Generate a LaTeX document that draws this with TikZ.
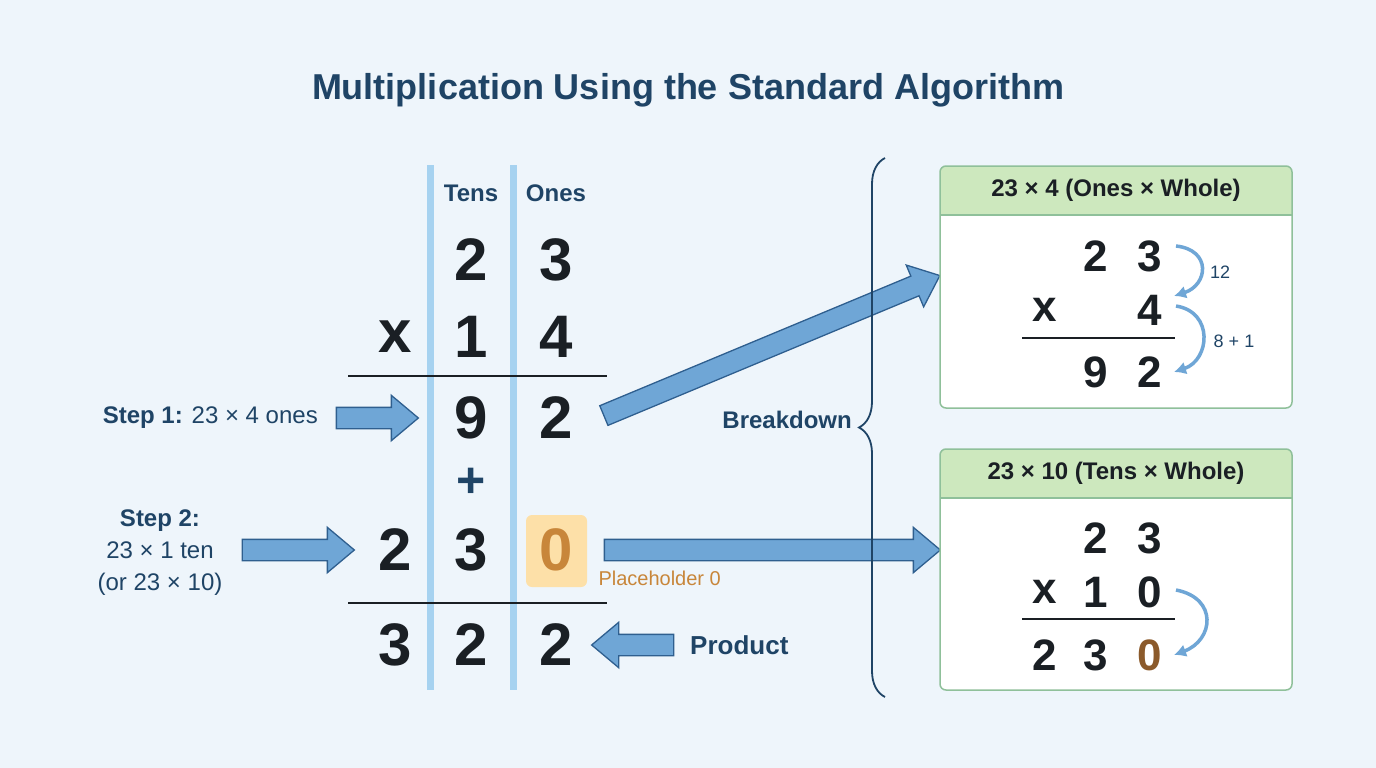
\documentclass[tikz,border=0pt]{standalone}
\usepackage{fontspec}
\setmainfont{Liberation Sans}
\usetikzlibrary{shapes.arrows,calc,decorations.pathreplacing,arrows.meta}
\definecolor{bg}{HTML}{EEF5FB}
\definecolor{navy}{HTML}{1F4466}
\definecolor{colline}{HTML}{A6D2F0}
\definecolor{arrfill}{HTML}{6FA6D6}
\definecolor{arrline}{HTML}{2F5F8F}
\definecolor{orangeT}{HTML}{C8863A}
\definecolor{orangeB}{HTML}{FDE0A8}
\definecolor{hdr}{HTML}{CDE8BE}
\definecolor{boxline}{HTML}{8FC09A}
\definecolor{brownT}{HTML}{8B5A2B}
\definecolor{digit}{HTML}{1A1F24}
\tikzset{
 dig/.style={font=\fontsize{60}{60}\selectfont\bfseries, text=digit, inner sep=0pt},
 sdig/.style={font=\fontsize{44}{44}\selectfont\bfseries, text=digit, inner sep=0pt},
 lab/.style={font=\fontsize{24}{24}\selectfont, text=navy, inner sep=0pt},
 barrow/.style={single arrow, draw=arrline, fill=arrfill, line width=1.3pt,
   text height=20pt, text depth=0pt, text width=0pt, single arrow head extend=12pt, single arrow tip angle=80, inner sep=0pt, minimum height=#1},
 curv/.style={-{Latex[length=12pt,width=13pt]}, draw=arrfill, line width=3.5pt},
 box/.style={draw=boxline, line width=1.5pt, rounded corners=6pt},
}
\newcommand{\blockarrow}[2]{%
 \path let \p1=(#1), \p2=(#2), \n1={atan2(\y2-\y1,\x2-\x1)}, \n2={veclen(\x2-\x1,\y2-\y1)} in
  node[barrow=\n2, rotate=\n1] at ($(#1)!0.5!(#2)$) {};}
\begin{document}
\begin{tikzpicture}[x=1pt,y=-1pt]
\fill[bg] (0,0) rectangle (1376,768);
\node[font=\fontsize{36}{36}\selectfont\bfseries, text=navy] (title) at (688,90) {Multiplication Using the Standard Algorithm};
% columns
\draw[colline, line width=7pt] (430,165) -- (430,690);
\draw[colline, line width=7pt] (513,165) -- (513,690);
\node[lab, font=\fontsize{24}{24}\selectfont\bfseries] (tens) at (471,193) {Tens};
\node[lab, font=\fontsize{24}{24}\selectfont\bfseries] (ones) at (556,193) {Ones};
% digits
\node[dig] (a2) at (471,260) {2};
\node[dig] (a3) at (556,260) {3};
\node[dig] (bx) at (395,337) {x};
\node[dig] (b1) at (471,337) {1};
\node[dig] (b4) at (556,337) {4};
\draw[digit, line width=2pt] (348,376) -- (607,376);
\node[dig] (c9) at (471,418) {9};
\node[dig] (c2) at (556,418) {2};
\node[dig, text=navy, font=\fontsize{50}{50}\selectfont\bfseries] (plus) at (471,483) {+};
\fill[orangeB, rounded corners=6pt] (526,515) rectangle (587,587);
\node[dig] (d2) at (395,550) {2};
\node[dig] (d3) at (471,550) {3};
\node[dig, text=orangeT] (d0) at (556,550) {0};
\node[font=\fontsize{20}{20}\selectfont, text=orangeT, anchor=west] (ph) at (595,578) {Placeholder 0};
\draw[digit, line width=2pt] (348,603) -- (607,603);
\node[dig] (e3) at (395,645) {3};
\node[dig] (e2) at (471,645) {2};
\node[dig] (e22) at (556,645) {2};
% left labels
\node[lab, anchor=east] (s1) at (318,418) {\textbf{Step 1:} 23 × 4 ones};
\coordinate (s1a) at (330,418); \coordinate (s1b) at (412,418);
\blockarrow{s1a}{s1b}
\node[lab, align=center, font=\fontsize{24}{32}\selectfont] (s2) at (160,553) {\textbf{Step 2:}\\23 × 1 ten\\(or 23 × 10)};
\coordinate (s2a) at (236,550); \coordinate (s2b) at (348,550);
\blockarrow{s2a}{s2b}
% product
\node[lab, anchor=west, font=\fontsize{26}{26}\selectfont\bfseries] (prod) at (690,645) {Product};
\coordinate (pa) at (680,645); \coordinate (pb) at (598,645);
\blockarrow{pa}{pb}
% arrows to boxes
\coordinate (r1a) at (598,418); \coordinate (r1b) at (934,278);
\blockarrow{r1a}{r1b}
\coordinate (r2a) at (598,550); \coordinate (r2b) at (934,550);
\blockarrow{r2a}{r2b}
% brace
\draw[navy, line width=1.8pt, decorate, decoration={brace, amplitude=26pt}] (885,697) -- (885,158);
\node[lab, anchor=east, font=\fontsize{24}{24}\selectfont\bfseries] (bd) at (852,420) {Breakdown};
% box 1
\begin{scope}
\clip[rounded corners=6pt] (940,166) rectangle (1292,408);
\fill[white] (940,166) rectangle (1292,408);
\fill[hdr] (940,166) rectangle (1292,215);
\end{scope}
\draw[box] (940,166) rectangle (1292,408);
\draw[boxline, line width=1.5pt] (940,215) -- (1292,215);
\node[lab, text=digit, font=\fontsize{24}{24}\selectfont\bfseries] (h1) at (1116,190) {23 × 4 (Ones × Whole)};
\node[sdig] (p2) at (1096,256) {2};
\node[sdig] (p3) at (1150,256) {3};
\node[sdig] (px) at (1045,310) {x};
\node[sdig] (p4) at (1150,310) {4};
\draw[digit, line width=2pt] (1022,338) -- (1175,338);
\node[sdig] (p9) at (1096,372) {9};
\node[sdig] (p22) at (1150,372) {2};
\coordinate (c1a) at (1176,246); \coordinate (c1b) at (1174,296);
\coordinate (c2a) at (1176,306); \coordinate (c2b) at (1174,372);
\draw[curv] (c1a) .. controls (1212,250) and (1208,285) .. (c1b);
\node[font=\fontsize{18}{18}\selectfont, text=navy] (l12) at (1220,272) {12};
\draw[curv] (c2a) .. controls (1214,312) and (1210,360) .. (c2b);
\node[font=\fontsize{18}{18}\selectfont, text=navy] (l81) at (1234,341) {8 + 1};
% box 2
\begin{scope}
\clip[rounded corners=6pt] (940,449) rectangle (1292,690);
\fill[white] (940,449) rectangle (1292,690);
\fill[hdr] (940,449) rectangle (1292,498);
\end{scope}
\draw[box] (940,449) rectangle (1292,690);
\draw[boxline, line width=1.5pt] (940,498) -- (1292,498);
\node[lab, text=digit, font=\fontsize{24}{24}\selectfont\bfseries] (h2) at (1116,473) {23 × 10 (Tens × Whole)};
\node[sdig] (q2) at (1096,538) {2};
\node[sdig] (q3) at (1150,538) {3};
\node[sdig] (qx) at (1045,592) {x};
\node[sdig] (q1) at (1096,592) {1};
\node[sdig] (q0) at (1150,592) {0};
\draw[digit, line width=2pt] (1022,619) -- (1175,619);
\node[sdig] (r2) at (1045,655) {2};
\node[sdig] (r3) at (1096,655) {3};
\node[sdig, text=brownT] (r0) at (1150,655) {0};
\coordinate (c3a) at (1176,590); \coordinate (c3b) at (1174,655);
\draw[curv] (c3a) .. controls (1218,598) and (1214,640) .. (c3b);
\end{tikzpicture}
\end{document}
